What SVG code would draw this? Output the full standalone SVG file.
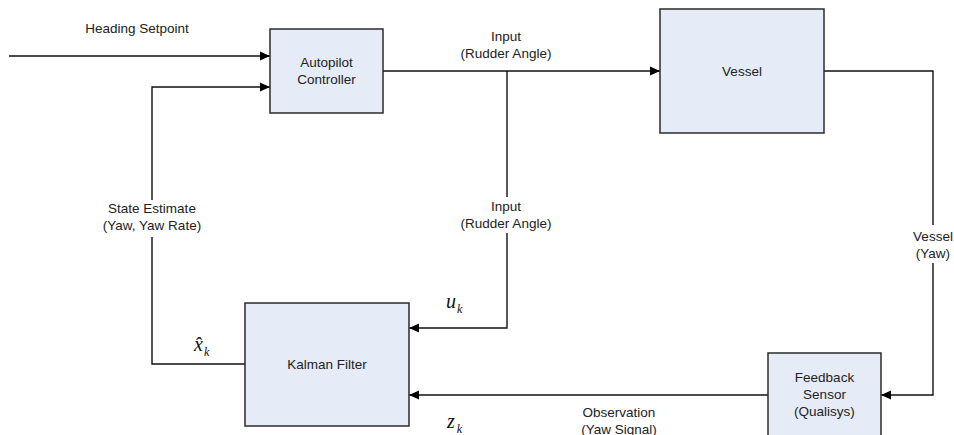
<svg xmlns="http://www.w3.org/2000/svg" width="954" height="435" viewBox="0 0 954 435">
<style>
.box{fill:#e6ecf7;stroke:#2b2b2b;stroke-width:1.5}
.lbl{font-family:"Liberation Sans",Arial,sans-serif;font-size:13.5px;fill:#222;text-anchor:middle}
.ln{fill:none;stroke:#111;stroke-width:1.4}
.math{font-family:"Liberation Serif","Times New Roman",serif;font-style:italic;fill:#111}
.bg{fill:#fff}
</style>
<defs>
<marker id="ah" viewBox="0 0 10 10" refX="10" refY="5" markerWidth="10" markerHeight="10" markerUnits="userSpaceOnUse" orient="auto">
<path d="M0,0.5 L10,5 L0,9.5 z" fill="#000"/>
</marker>
</defs>
<rect width="954" height="435" fill="#fff"/>
<g id="connectors">
<path class="ln" d="M9,56 H270" marker-end="url(#ah)"/>
<path class="ln" d="M245,364 H152 V87 H270" marker-end="url(#ah)"/>
<path class="ln" d="M383,71 H660" marker-end="url(#ah)"/>
<path class="ln" d="M507,71 V328 H409" marker-end="url(#ah)"/>
<path class="ln" d="M824,71 H933 V395 H881" marker-end="url(#ah)"/>
<path class="ln" d="M768,395 H409" marker-end="url(#ah)"/>
<rect class="bg" x="100" y="200" width="104" height="37"/>
<rect class="bg" x="455" y="197" width="104" height="36"/>
<rect class="bg" x="905" y="225" width="56" height="38"/>
<text class="lbl" x="137" y="33">Heading Setpoint</text>
<text class="lbl" x="506" y="41">Input</text>
<text class="lbl" x="506" y="58">(Rudder Angle)</text>
<text class="lbl" x="506" y="211">Input</text>
<text class="lbl" x="506" y="228">(Rudder Angle)</text>
<text class="lbl" x="152" y="213">State Estimate</text>
<text class="lbl" x="152" y="230">(Yaw, Yaw Rate)</text>
<text class="lbl" x="933" y="241">Vessel</text>
<text class="lbl" x="933" y="258">(Yaw)</text>
<text class="lbl" x="619" y="417">Observation</text>
<text class="lbl" x="619" y="434">(Yaw Signal)</text>
<text class="math" x="446" y="308" font-size="20">u<tspan font-size="12" dx="1" dy="5">k</tspan></text>
<text class="math" x="194" y="351" font-size="20">x̂<tspan font-size="12" dx="1" dy="5">k</tspan></text>
<text class="math" x="447" y="428" font-size="20">z<tspan font-size="12" dx="2" dy="5">k</tspan></text>
</g>
<g id="autopilot">
<rect class="box" x="270" y="29" width="113" height="84"/>
<text class="lbl" x="326.5" y="67">Autopilot</text>
<text class="lbl" x="326.5" y="84">Controller</text>
</g>
<g id="vessel">
<rect class="box" x="660" y="9" width="164" height="124"/>
<text class="lbl" x="742" y="76">Vessel</text>
</g>
<g id="kalman">
<rect class="box" x="245" y="303" width="164" height="123"/>
<text class="lbl" x="327" y="369">Kalman Filter</text>
</g>
<g id="sensor">
<rect class="box" x="768" y="353" width="113" height="90"/>
<text class="lbl" x="824.5" y="382">Feedback</text>
<text class="lbl" x="824.5" y="399">Sensor</text>
<text class="lbl" x="824.5" y="416">(Qualisys)</text>
</g>
</svg>
